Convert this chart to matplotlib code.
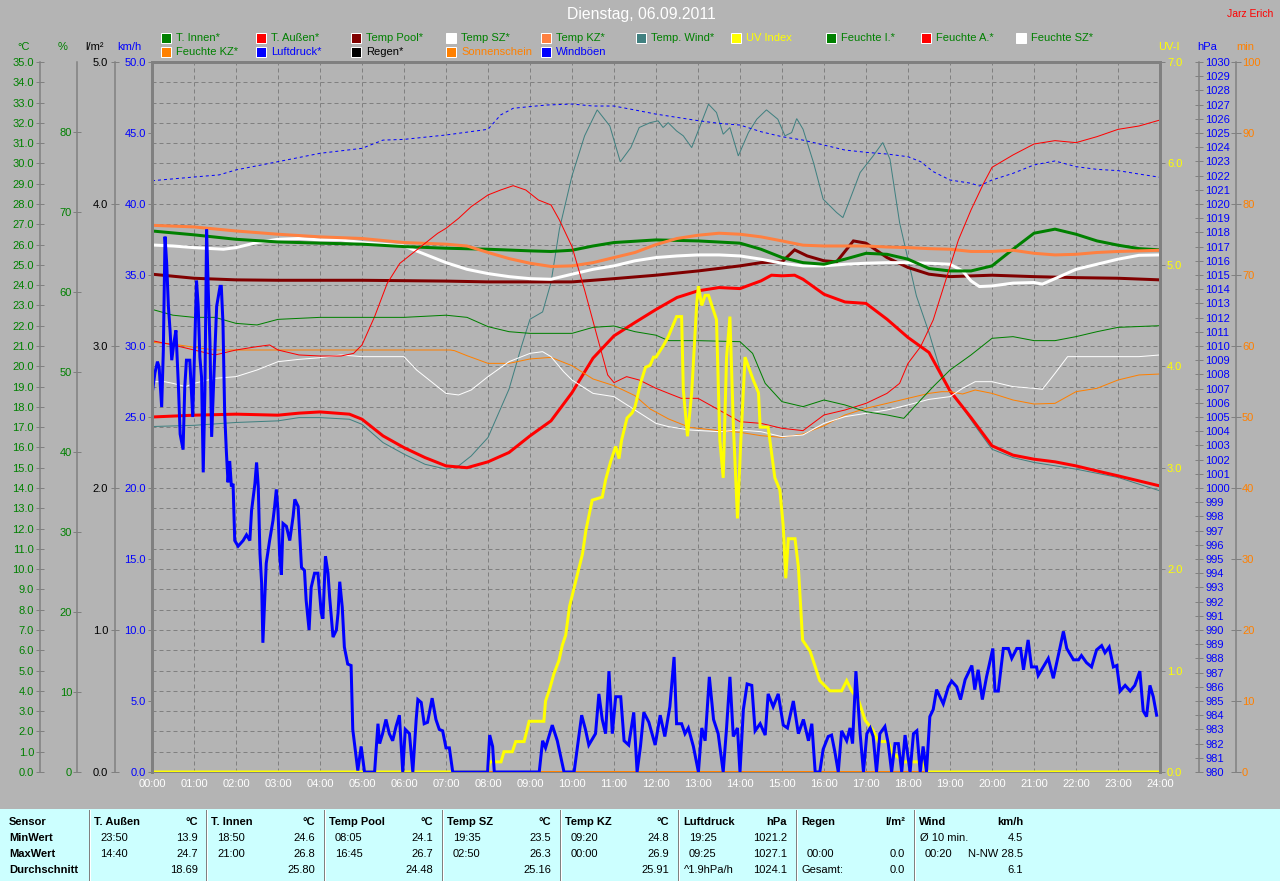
import matplotlib
matplotlib.use("Agg")
import matplotlib.pyplot as plt
from matplotlib.patches import Rectangle
from matplotlib.lines import Line2D
from matplotlib.ticker import FormatStrFormatter

plt.rcParams['font.family'] = ['Liberation Sans', 'DejaVu Sans']

# ---------------------------------------------------------------- data
title = "Dienstag, 06.09.2011"
author = "Jarz Erich"
hour_labels = [f"{h:02d}:00" for h in range(25)]

# (hour, value) pairs
t_innen = [(0, 26.67), (1, 26.48), (2, 26.26), (3, 26.13), (4, 26.07), (5, 26.02), (6, 25.9), (7, 25.82),
           (8, 25.77), (9, 25.69), (9.5, 25.66), (10, 25.72), (10.5, 25.93), (11, 26.1), (12, 26.23), (13, 26.18),
           (14, 26.07), (14.5, 25.77), (15, 25.36), (15.5, 25.11), (16, 25.03), (16.5, 25.28), (17, 25.57),
           (17.5, 25.52), (18, 25.28), (18.5, 24.82), (19, 24.7), (19.5, 24.7), (20, 24.95), (20.5, 25.77),
           (21, 26.56), (21.5, 26.76), (22, 26.51), (22.5, 26.18), (23, 25.97), (23.5, 25.8), (24, 25.74)]

t_aussen = [(0, 17.5), (1, 17.59), (2, 17.64), (3, 17.59), (3.5, 17.69), (4, 17.75), (4.7, 17.64), (5, 17.39),
            (5.5, 16.57), (6, 15.99), (6.5, 15.5), (7, 15.09), (7.5, 15.0), (8, 15.29), (8.5, 15.75), (9, 16.57),
            (9.5, 17.31), (10, 18.7), (10.5, 20.4), (11, 21.5), (11.5, 22.16), (12, 22.8), (12.5, 23.39),
            (13, 23.72), (13.5, 23.88), (14, 23.83), (14.5, 24.21), (14.75, 24.49), (15, 24.46), (15.3, 24.49),
            (15.5, 24.29), (16, 23.55), (16.5, 23.17), (17, 23.1), (17.5, 22.32), (18, 21.42), (18.5, 20.68),
            (19, 18.79), (19.5, 17.47), (20, 16.08), (20.5, 15.62), (21, 15.42), (21.5, 15.29), (22, 15.09),
            (22.5, 14.84), (23, 14.6), (23.5, 14.35), (24, 14.1)]

temp_pool = [(0, 24.54), (1, 24.34), (2, 24.26), (3, 24.24), (5, 24.24), (7, 24.2), (8, 24.16), (9, 24.16),
             (10, 24.16), (11, 24.32), (12, 24.49), (13, 24.7), (14, 24.95), (14.5, 25.11), (15, 25.15),
             (15.3, 25.74), (15.6, 25.44), (16, 25.2), (16.3, 25.15), (16.7, 26.18), (17, 26.07), (17.5, 25.36),
             (18, 24.87), (18.5, 24.54), (19, 24.42), (20, 24.49), (21, 24.42), (22, 24.37), (23, 24.34), (24, 24.26)]

temp_sz = [(0, 25.98), (0.5, 25.93), (1, 25.85), (1.7, 25.77), (2, 25.85), (2.5, 26.1), (3, 26.26), (3.5, 26.3),
           (4, 26.23), (4.5, 26.23), (5, 26.1), (5.5, 26.02), (6, 25.93), (6.5, 25.52), (7, 25.11), (7.5, 24.78),
           (8, 24.57), (8.5, 24.42), (9, 24.32), (9.5, 24.29), (10, 24.54), (10.5, 24.78), (11, 24.95),
           (11.5, 25.2), (12, 25.36), (12.5, 25.44), (13, 25.49), (13.5, 25.49), (14, 25.44), (14.5, 25.28),
           (15, 25.08), (15.5, 24.95), (16, 24.95), (16.5, 25.03), (17, 25.08), (17.5, 25.11), (18, 25.11),
           (18.5, 25.08), (19, 25.03), (19.3, 24.7), (19.5, 24.21), (19.7, 23.93), (20, 23.96), (20.5, 24.1),
           (21, 24.13), (21.2, 24.05), (21.5, 24.32), (22, 24.78), (22.5, 25.03), (23, 25.28), (23.5, 25.47),
           (24, 25.49)]

temp_kz = [(0, 26.95), (1, 26.87), (2, 26.67), (3, 26.51), (4, 26.38), (5, 26.3), (6, 26.1), (7, 26.02),
           (7.5, 25.93), (8, 25.61), (8.5, 25.31), (9, 25.08), (9.5, 24.92), (10, 24.95), (10.5, 25.11),
           (11, 25.36), (11.5, 25.61), (12, 26.0), (12.5, 26.3), (13, 26.46), (13.5, 26.56), (14, 26.51),
           (14.5, 26.38), (15, 26.18), (15.5, 25.97), (16, 25.93), (17, 25.93), (17.5, 25.88), (18, 25.85),
           (18.5, 25.8), (19, 25.77), (19.5, 25.66), (20, 25.66), (20.5, 25.72), (21, 25.57), (21.5, 25.49),
           (22, 25.52), (22.5, 25.61), (23, 25.66), (23.5, 25.69), (24, 25.72)]

temp_wind = [(0, 17.03), (1, 17.09), (2, 17.23), (3, 17.31), (3.5, 17.47), (4, 17.47), (4.7, 17.39), (5, 17.14),
             (5.5, 16.24), (6, 15.67), (6.5, 15.17), (7, 14.93), (7.3, 15.09), (7.6, 15.58), (8, 16.49),
             (8.5, 18.87), (8.8, 21.01), (9, 22.32), (9.3, 22.68), (9.5, 24.13), (9.7, 26.76), (10, 29.39),
             (10.3, 31.36), (10.6, 32.64), (10.9, 31.85), (11.15, 30.08), (11.4, 30.78), (11.6, 31.77),
             (11.86, 32.01), (12.05, 32.1), (12.17, 31.77), (12.29, 32.01), (12.49, 31.6), (12.65, 31.36),
             (12.85, 30.78), (13.05, 31.85), (13.25, 32.92), (13.44, 32.51), (13.6, 31.44), (13.76, 31.77),
             (13.96, 30.37), (14.2, 31.52), (14.4, 32.18), (14.63, 32.64), (14.9, 32.18), (15.07, 31.36),
             (15.23, 31.52), (15.35, 32.21), (15.5, 31.69), (15.75, 30.04), (15.98, 28.24), (16.3, 27.58),
             (16.45, 27.33), (16.62, 28.24), (16.86, 29.55), (17.17, 30.37), (17.4, 31.03), (17.57, 30.21),
             (17.8, 27.08), (18.2, 23.47), (18.5, 21.66), (18.76, 19.86), (19.0, 18.7), (19.3, 17.96),
             (19.6, 17.06), (20.0, 15.91), (20.5, 15.5), (21, 15.26), (22, 14.93), (23, 14.52), (24, 13.86)]

feuchte_i = [(0, 57.83), (0.5, 57.1), (1, 56.83), (1.5, 56.83), (2, 56.08), (2.5, 55.88), (3, 56.58), (4, 56.83),
             (5, 56.83), (6, 56.83), (7, 57.1), (7.5, 56.83), (8, 55.67), (8.5, 55.04), (9, 54.83), (10, 54.83),
             (10.5, 55.58), (11, 55.75), (11.5, 55.04), (12, 54.6), (12.3, 53.92), (13, 53.92), (14, 53.79),
             (14.3, 52.33), (14.6, 48.58), (15, 46.29), (15.5, 45.67), (16, 46.5), (16.5, 45.88), (17, 45.04),
             (17.5, 44.63), (17.9, 44.21), (18.3, 46.5), (18.6, 48.17), (19, 50.25), (19.5, 52.13), (20, 54.21),
             (20.5, 54.42), (21, 53.92), (21.5, 53.92), (22, 54.42), (22.5, 55.04), (23, 55.58), (24, 55.79)]

feuchte_a = [(0, 53.92), (0.5, 53.38), (1, 52.75), (1.5, 52.13), (2, 52.75), (2.5, 53.17), (2.8, 53.38),
             (3, 52.75), (3.5, 52.13), (4, 52.0), (4.5, 52.0), (4.8, 52.33), (5, 53.38), (5.3, 56.92),
             (5.6, 61.08), (5.9, 63.58), (6.2, 64.83), (6.5, 66.08), (6.8, 67.33), (7.0, 67.96), (7.3, 69.21),
             (7.6, 70.67), (8.0, 72.13), (8.3, 72.75), (8.6, 73.29), (8.9, 72.75), (9.2, 71.5), (9.5, 70.88),
             (9.7, 69.0), (10, 65.67), (10.3, 60.25), (10.6, 54.42), (10.85, 49.63), (11, 48.67), (11.3, 49.42),
             (11.6, 49.0), (12, 47.96), (12.3, 47.33), (12.6, 46.71), (13, 46.71), (13.5, 45.25), (14, 43.79),
             (14.5, 43.58), (15, 42.96), (15.5, 42.67), (16, 44.63), (16.5, 45.25), (17, 46.08), (17.5, 47.33),
             (17.8, 48.58), (18, 51.08), (18.3, 53.17), (18.6, 56.5), (18.9, 61.5), (19.2, 66.5), (19.5, 70.25),
             (19.8, 73.58), (20, 75.58), (20.5, 77.13), (21, 78.5), (21.5, 78.92), (22, 78.67), (22.5, 79.42),
             (23, 80.33), (23.5, 80.75), (24, 81.5)]

feuchte_sz = [(0, 48.79), (0.3, 48.79), (0.5, 48.58), (0.8, 48.17), (1, 48.58), (1.5, 49.21), (2, 49.42),
              (2.5, 50.25), (3, 51.29), (3.5, 51.58), (4, 51.79), (4.5, 52.13), (5, 51.92), (5.5, 51.92),
              (6, 51.92), (6.3, 50.25), (6.7, 48.58), (7, 47.33), (7.3, 47.13), (7.6, 47.75), (8, 49.42),
              (8.5, 51.29), (9, 52.33), (9.3, 52.54), (9.5, 51.92), (9.8, 50.04), (10, 49.0), (10.5, 47.33),
              (11, 46.92), (11.5, 45.25), (12, 43.58), (12.3, 43.17), (12.8, 42.75), (13.5, 42.54), (14, 42.75),
              (14.5, 42.54), (15, 41.92), (15.5, 42.13), (16, 43.58), (16.5, 44.42), (17, 44.83), (17.5, 45.25),
              (18, 45.88), (18.5, 46.58), (19, 46.92), (19.3, 47.96), (19.6, 48.79), (20, 48.79), (20.5, 48.17),
              (21, 47.96), (21.2, 47.83), (21.5, 49.83), (21.8, 51.92), (22, 51.92), (23, 51.92), (23.5, 51.92),
              (24, 52.13)]

feuchte_kz = [(0, 53.71), (0.5, 53.5), (1, 53.08), (1.5, 52.75), (2, 52.75), (3, 52.75), (4, 52.75), (5, 52.75),
              (6, 52.75), (7.1, 52.75), (7.2, 52.67), (7.5, 52.04), (8, 51.08), (8.5, 51.08), (9, 51.63),
              (9.5, 51.83), (10, 50.79), (10.5, 49.13), (11, 48.29), (11.5, 47.04), (11.86, 45.38), (12.3, 44.13),
              (12.8, 43.08), (13.5, 42.67), (14, 42.46), (14.5, 42.04), (15, 41.83), (15.5, 42.25), (16, 43.29),
              (16.5, 44.63), (17, 45.46), (17.5, 46.08), (18, 46.71), (18.5, 47.33), (18.8, 47.54), (19, 47.54),
              (19.3, 47.25), (19.6, 47.75), (20, 47.33), (20.5, 46.5), (21, 46.0), (21.5, 46.08), (22, 47.54),
              (22.5, 47.96), (23, 49.0), (23.5, 49.63), (24, 49.75)]

luftdruck = [(0, 1021.64), (1, 1021.9), (1.6, 1022.05), (2, 1022.4), (3, 1022.98), (4, 1023.57), (5, 1023.92),
             (5.5, 1024.5), (6, 1024.55), (7, 1024.86), (8, 1025.26), (8.3, 1026.27), (8.6, 1026.74),
             (9, 1026.86), (9.4, 1026.97), (10, 1027.04), (10.5, 1026.9), (11, 1026.9), (11.5, 1026.62),
             (12, 1026.33), (12.5, 1026.1), (13, 1025.87), (13.5, 1025.68), (14, 1025.56), (14.5, 1025.09),
             (15, 1024.74), (15.5, 1024.5), (16, 1024.15), (16.5, 1023.8), (17, 1023.64), (17.5, 1023.52),
             (18, 1023.33), (18.3, 1022.98), (18.6, 1022.28), (19, 1021.69), (19.5, 1021.46), (19.7, 1021.27),
             (20, 1021.69), (20.5, 1022.16), (21, 1022.75), (21.5, 1023.03), (22, 1022.63), (22.5, 1022.44),
             (23, 1022.35), (23.5, 1022.11), (24, 1021.88)]

uv_index = [(0, 0.0), (7.99, 0.0), (8.04, 0.1), (8.31, 0.1), (8.38, 0.2), (8.58, 0.2), (8.66, 0.3), (8.86, 0.3),
            (8.98, 0.5), (9.33, 0.5), (9.37, 0.7), (9.47, 0.82), (9.57, 0.97), (9.69, 1.1), (9.77, 1.25),
            (9.85, 1.35), (9.94, 1.63), (10.1, 1.9), (10.25, 2.15), (10.33, 2.38), (10.48, 2.68), (10.72, 2.71),
            (10.8, 2.88), (10.92, 3.06), (11.04, 3.21), (11.12, 3.09), (11.18, 3.27), (11.31, 3.49),
            (11.43, 3.54), (11.5, 3.6), (11.63, 3.83), (11.75, 3.99), (11.86, 4.01), (11.94, 4.09), (12.0, 4.09),
            (12.17, 4.2), (12.29, 4.29), (12.49, 4.49), (12.61, 4.49), (12.65, 3.77), (12.75, 3.31),
            (12.85, 3.74), (12.97, 4.62), (13.01, 4.79), (13.09, 4.6), (13.17, 4.7), (13.25, 4.7), (13.44, 4.46),
            (13.52, 3.27), (13.6, 2.9), (13.68, 4.09), (13.76, 4.49), (13.84, 3.44), (13.94, 2.5), (14.02, 3.27),
            (14.12, 4.09), (14.32, 3.86), (14.44, 3.74), (14.48, 3.4), (14.67, 3.4), (14.83, 2.9), (14.95, 2.78),
            (15.03, 2.42), (15.09, 1.91), (15.15, 2.3), (15.31, 2.3), (15.39, 2.02), (15.49, 1.3), (15.67, 1.19),
            (15.9, 0.9), (16.14, 0.8), (16.42, 0.8), (16.54, 0.9), (16.66, 0.8), (16.82, 0.71), (16.98, 0.51),
            (17.17, 0.41), (17.29, 0.3), (17.53, 0.3), (17.61, 0.2), (17.89, 0.1), (18.36, 0.1), (18.44, 0.0),
            (24, 0.0)]

windboeen = [(0.0, 26.55), (0.07, 28.1), (0.13, 28.9), (0.17, 28.5), (0.23, 25.7), (0.27, 29.7), (0.31, 37.7),
             (0.35, 35.8), (0.39, 32.8), (0.43, 31.1), (0.47, 29.0), (0.52, 30.2), (0.57, 31.1), (0.63, 27.1),
             (0.67, 23.8), (0.74, 22.7), (0.78, 27.1), (0.82, 29.0), (0.9, 29.0), (0.97, 25.0), (1.02, 30.4),
             (1.06, 34.6), (1.1, 32.8), (1.14, 29.2), (1.18, 27.8), (1.22, 21.1), (1.26, 26.9), (1.3, 38.2),
             (1.34, 33.9), (1.38, 30.2), (1.42, 23.6), (1.47, 27.6), (1.54, 32.8), (1.62, 34.2), (1.65, 34.2),
             (1.69, 31.6), (1.73, 25.3), (1.77, 22.6), (1.81, 20.4), (1.85, 21.9), (1.89, 20.1), (1.93, 20.3),
             (1.97, 16.3), (2.05, 15.9), (2.17, 16.3), (2.25, 16.7), (2.33, 16.3), (2.37, 18.4), (2.45, 20.3),
             (2.49, 21.8), (2.53, 20.1), (2.57, 15.4), (2.61, 13.3), (2.64, 9.1), (2.68, 11.9), (2.72, 14.7),
             (2.8, 16.3), (2.88, 17.7), (2.92, 18.7), (2.96, 19.9), (3.0, 18.4), (3.04, 15.2), (3.08, 13.9),
             (3.12, 17.5), (3.2, 17.3), (3.28, 16.3), (3.36, 18.0), (3.4, 19.2), (3.48, 18.7), (3.56, 14.4),
             (3.63, 14.2), (3.67, 12.1), (3.74, 10.0), (3.79, 13.0), (3.87, 14.0), (3.95, 14.0), (4.03, 11.2),
             (4.07, 10.8), (4.13, 15.2), (4.19, 14.0), (4.23, 12.3), (4.31, 9.5), (4.39, 10.0), (4.43, 11.2),
             (4.47, 13.4), (4.53, 11.6), (4.58, 8.8), (4.66, 7.6), (4.74, 7.5), (4.78, 3.0), (4.86, 1.1),
             (4.9, 0.1), (4.98, 1.8), (5.06, 0.0), (5.3, 0.0), (5.38, 3.4), (5.42, 2.0), (5.49, 2.7), (5.57, 3.7),
             (5.65, 2.7), (5.73, 2.2), (5.81, 3.2), (5.89, 4.0), (5.93, 2.0), (5.97, 0.0), (6.03, 3.0),
             (6.13, 2.7), (6.21, 0.0), (6.29, 3.7), (6.33, 5.1), (6.41, 4.9), (6.48, 3.4), (6.56, 3.5),
             (6.67, 5.2), (6.76, 3.7), (6.84, 3.0), (6.92, 2.9), (7.0, 1.7), (7.08, 1.7), (7.16, 0.0),
             (7.99, 0.0), (8.04, 2.6), (8.11, 1.8), (8.15, 0.0), (9.22, 0.0), (9.3, 2.2), (9.37, 1.7),
             (9.53, 3.3), (9.65, 2.2), (9.81, 0.0), (10.05, 0.0), (10.17, 2.7), (10.23, 4.0), (10.32, 3.0),
             (10.4, 1.9), (10.56, 2.7), (10.64, 5.5), (10.72, 3.7), (10.8, 2.7), (10.88, 7.1), (10.96, 2.7),
             (11.04, 5.3), (11.16, 5.3), (11.24, 2.2), (11.35, 1.9), (11.47, 4.2), (11.55, 0.0), (11.63, 1.8),
             (11.71, 4.2), (11.83, 3.5), (11.98, 1.9), (12.1, 4.0), (12.21, 2.5), (12.33, 4.6), (12.43, 8.1),
             (12.49, 3.4), (12.61, 3.4), (12.69, 2.7), (12.77, 3.1), (12.89, 1.8), (13.01, 0.0), (13.09, 3.1),
             (13.17, 2.2), (13.27, 6.7), (13.37, 3.7), (13.48, 2.7), (13.6, 0.0), (13.68, 3.1), (13.76, 6.7),
             (13.84, 2.5), (13.94, 3.1), (14.0, 0.0), (14.08, 4.4), (14.17, 6.2), (14.28, 6.1), (14.36, 2.9),
             (14.48, 3.4), (14.6, 2.6), (14.67, 5.5), (14.79, 4.6), (14.91, 5.5), (15.03, 3.3), (15.13, 3.1),
             (15.27, 5.0), (15.39, 2.7), (15.51, 3.7), (15.63, 2.2), (15.71, 3.4), (15.79, 0.0), (15.9, 0.0),
             (15.98, 1.6), (16.1, 2.5), (16.18, 2.6), (16.26, 1.4), (16.34, 0.0), (16.42, 2.9), (16.54, 2.2),
             (16.62, 3.1), (16.68, 2.0), (16.76, 7.1), (16.86, 2.7), (16.94, 0.0), (17.02, 2.7), (17.1, 3.1),
             (17.17, 2.5), (17.25, 0.0), (17.33, 2.7), (17.45, 3.2), (17.53, 2.0), (17.61, 0.0), (17.69, 2.0),
             (17.77, 2.0), (17.85, 0.0), (17.93, 2.6), (18.05, 0.0), (18.13, 2.7), (18.21, 2.9), (18.29, 0.0),
             (18.36, 1.8), (18.44, 0.0), (18.52, 3.9), (18.6, 4.4), (18.68, 5.8), (18.84, 4.8), (18.96, 6.0),
             (19.04, 6.4), (19.16, 6.0), (19.25, 5.1), (19.36, 6.5), (19.52, 7.5), (19.59, 5.8), (19.67, 7.2),
             (19.77, 5.1), (19.87, 6.7), (20.02, 8.7), (20.07, 5.7), (20.15, 5.7), (20.27, 8.7), (20.39, 8.7),
             (20.47, 8.0), (20.59, 8.7), (20.68, 8.7), (20.75, 7.2), (20.86, 9.3), (20.94, 7.4), (21.06, 7.4),
             (21.1, 6.8), (21.34, 8.0), (21.46, 6.6), (21.6, 8.5), (21.7, 9.9), (21.78, 8.7), (21.94, 7.9),
             (22.06, 7.9), (22.13, 8.2), (22.25, 7.7), (22.37, 7.4), (22.49, 8.6), (22.61, 8.9), (22.69, 8.4),
             (22.79, 8.8), (22.89, 7.4), (22.97, 7.5), (23.05, 5.7), (23.17, 6.1), (23.29, 5.7), (23.4, 6.1),
             (23.52, 7.1), (23.6, 4.3), (23.68, 3.9), (23.76, 6.1), (23.84, 5.3), (23.92, 4.0)]

regen = [(0, 0.0), (24, 0.0)]
sonnenschein = [(0, 0.0), (24, 0.0)]

# legend rows
legend_row1 = ["T. Innen*", "T. Außen*", "Temp Pool*", "Temp SZ*", "Temp KZ*", "Temp. Wind*", "UV Index",
               "Feuchte I.*", "Feuchte A.*", "Feuchte SZ*"]
legend_row2 = ["Feuchte KZ*", "Luftdruck*", "Regen*", "Sonnenschein", "Windböen"]

# statistics table
tbl_row_names = ["Sensor", "MinWert", "MaxWert", "Durchschnitt"]
tbl_sensors = ["T. Außen", "T. Innen", "Temp Pool", "Temp SZ", "Temp KZ", "Luftdruck", "Regen", "Wind"]
tbl_units = ["°C", "°C", "°C", "°C", "°C", "hPa", "l/m²", "km/h"]
tbl_min_left = ["23:50", "18:50", "08:05", "19:35", "09:20", "19:25", "", "Ø 10 min."]
tbl_min_right = ["13.9", "24.6", "24.1", "23.5", "24.8", "1021.2", "", "4.5"]
tbl_max_left = ["14:40", "21:00", "16:45", "02:50", "00:00", "09:25", "00:00", "00:20"]
tbl_max_right = ["24.7", "26.8", "26.7", "26.3", "26.9", "1027.1", "0.0", "N-NW 28.5"]
tbl_avg_left = ["", "", "", "", "", "^1.9hPa/h", "Gesamt:", ""]
tbl_avg_right = ["18.69", "25.80", "24.48", "25.16", "25.91", "1024.1", "0.0", "6.1"]

# ---------------------------------------------------------------- style
FIG_W, FIG_H, DPI = 1280, 881, 100
PX = 0.72  # points per pixel
BG = "#b4b4b4"
CYAN = "#ccffff"
GRAY = "#808080"
GREEN = "#008000"
RED = "#ff0000"
DARKRED = "#800000"
WHITE = "#ffffff"
LORANGE = "#ff8040"
ORANGE = "#ff8000"
TEAL = "#408080"
YELLOW = "#ffff00"
BLUE = "#0000ff"
BLACK = "#000000"
PL, PR, PT, PB = 152, 1160, 62, 772


def fx(px):
    return px / FIG_W


def fy(py):
    return 1 - py / FIG_H


def apos(xpix):
    return (xpix - PL) / (PR - PL)


fig = plt.figure(figsize=(FIG_W / DPI, FIG_H / DPI), dpi=DPI, facecolor=BG)
ax = fig.add_axes([fx(PL), fy(PB), (PR - PL) / FIG_W, (PB - PT) / FIG_H])
ax.set_facecolor(BG)
ax.set_xlim(0, 24)


def style_y(a, side, xpix, lo, hi, ticks, fmt, color, direction, length_px, pad_px, spine_lw_px=1.5):
    a.set_ylim(lo, hi)
    for s in a.spines.values():
        s.set_visible(False)
    sp = a.spines[side]
    sp.set_visible(True)
    sp.set_position(('axes', apos(xpix)))
    sp.set_color(GRAY)
    sp.set_linewidth(spine_lw_px * PX)
    if side == 'left':
        a.yaxis.tick_left()
    else:
        a.yaxis.tick_right()
    a.set_yticks(ticks)
    a.yaxis.set_major_formatter(FormatStrFormatter(fmt))
    a.tick_params(axis='y', which='major', direction=direction, length=length_px * PX, width=PX,
                  color=GRAY, labelcolor=color, labelsize=8, pad=pad_px * PX)


# °C axis = main axes
style_y(ax, 'left', 40, 0, 35, list(range(0, 36)), "%.1f", GREEN, 'inout', 8, 2)
ax.spines['top'].set_visible(True)
ax.spines['top'].set_color(GRAY)
ax.spines['top'].set_linewidth(3 * PX)
ax.spines['bottom'].set_visible(True)
ax.spines['bottom'].set_color(GRAY)
ax.spines['bottom'].set_linewidth(1 * PX)
ax.set_xticks(list(range(25)))
ax.set_xticklabels(hour_labels)
ax.tick_params(axis='x', length=0, labelcolor=WHITE, labelsize=8, pad=7 * PX)
ax.grid(True, color=GRAY, linestyle=(0, (4, 3)), linewidth=PX)
ax.set_axisbelow(True)

ax_pct = ax.twinx()
style_y(ax_pct, 'left', 77, 0, 88.75, list(range(0, 81, 10)), "%d", GREEN, 'inout', 8, 1)
ax_rain = ax.twinx()
style_y(ax_rain, 'left', 115, 0, 5, [0, 1, 2, 3, 4, 5], "%.1f", BLACK, 'inout', 8, 3)
ax_min = ax.twinx()
style_y(ax_min, 'right', 1236, 0, 100, list(range(0, 101, 10)), "%d", ORANGE, 'inout', 10, 1)
ax_hpa = ax.twinx()
style_y(ax_hpa, 'right', 1199, 980, 1030, list(range(980, 1031)), "%d", BLUE, 'inout', 8, 2)
ax_uv = ax.twinx()
style_y(ax_uv, 'right', PR, 0, 7, list(range(0, 8)), "%.1f", YELLOW, 'out', 5, 2, spine_lw_px=3)
ax_kmh = ax.twinx()
style_y(ax_kmh, 'left', PL, 0, 50, list(range(0, 51, 5)), "%.1f", BLUE, 'out', 4, 2, spine_lw_px=3)

THICK = 3 * PX
THIN = 1 * PX


def plot(a, series, color, lw, **kw):
    xs = [p[0] for p in series]
    ys = [p[1] for p in series]
    a.plot(xs, ys, color=color, lw=lw, solid_joinstyle='miter', clip_on=True, **kw)


# °C series
plot(ax, temp_wind, TEAL, THIN)
plot(ax, t_aussen, RED, THICK)
plot(ax, temp_pool, DARKRED, THICK)
plot(ax, temp_sz, WHITE, THICK)
plot(ax, t_innen, GREEN, THICK)
plot(ax, temp_kz, LORANGE, THICK)
# humidity
plot(ax_pct, feuchte_kz, ORANGE, THIN)
plot(ax_pct, feuchte_sz, WHITE, THIN)
plot(ax_pct, feuchte_a, RED, THIN)
plot(ax_pct, feuchte_i, GREEN, THIN)
# rain / sunshine
plot(ax_min, sonnenschein, ORANGE, THICK)
plot(ax_rain, regen, BLACK, THICK)
# pressure
plot(ax_hpa, luftdruck, BLUE, THIN, linestyle=(0, (3, 3)))
# uv
plot(ax_uv, uv_index, YELLOW, THICK)
# wind gusts
plot(ax_kmh, windboeen, BLUE, THICK)

# ---------------------------------------------------------------- texts
fig.text(fx(641), fy(15), title, color=WHITE, fontsize=11.3, ha='center', va='center')
fig.text(fx(1250), fy(14), author, color=RED, fontsize=7.5, ha='center', va='center')

unit_labels = [("°C", 24, GREEN), ("%", 63, GREEN), ("l/m²", 95, BLACK), ("km/h", 129, BLUE),
               ("UV-I", 1169, YELLOW), ("hPa", 1207, BLUE), ("min", 1245, ORANGE)]
for txt, xp, col in unit_labels:
    fig.text(fx(xp), fy(47), txt, color=col, fontsize=8, ha='center', va='center')

# legend
row1_colors = [GREEN, RED, DARKRED, WHITE, LORANGE, TEAL, YELLOW, GREEN, RED, WHITE]
row1_text = [GREEN, GREEN, GREEN, GREEN, GREEN, GREEN, YELLOW, GREEN, GREEN, GREEN]
row2_colors = [ORANGE, BLUE, BLACK, ORANGE, BLUE]
row2_text = [GREEN, BLUE, BLACK, ORANGE, BLUE]
for row, (labels, cols, tcols, yc) in enumerate([(legend_row1, row1_colors, row1_text, 38),
                                                 (legend_row2, row2_colors, row2_text, 52)]):
    for i, (lab, c, tc) in enumerate(zip(labels, cols, tcols)):
        x0 = 161 + 95 * i
        fig.patches.append(Rectangle((fx(x0), fy(yc + 5)), 10 / FIG_W, 10 / FIG_H, transform=fig.transFigure,
                                     facecolor=c, edgecolor=WHITE, linewidth=1 * PX))
        fig.text(fx(x0 + 15), fy(yc), lab, color=tc, fontsize=8, ha='left', va='center')

# table
fig.patches.append(Rectangle((0, 0), 1, fy(809), transform=fig.transFigure, facecolor=CYAN, edgecolor='none'))
seps = [89, 206, 324, 442, 560, 678, 796, 914]
row_y = [822, 838, 854, 870]
for i, name in enumerate(tbl_row_names):
    fig.text(fx(9), fy(row_y[i]), name, fontsize=8, fontweight='bold', ha='left', va='center', color=BLACK)
for j, sx in enumerate(seps):
    fig.add_artist(Line2D([fx(sx), fx(sx)], [fy(881), fy(810)], transform=fig.transFigure, color=GRAY, lw=1 * PX))
    fig.add_artist(Line2D([fx(sx + 1), fx(sx + 1)], [fy(881), fy(810)], transform=fig.transFigure,
                          color=WHITE, lw=1 * PX))
    fig.text(fx(sx + 5), fy(row_y[0]), tbl_sensors[j], fontsize=8, fontweight='bold', ha='left', va='center')
    fig.text(fx(sx + 109), fy(row_y[0]), tbl_units[j], fontsize=8, fontweight='bold', ha='right', va='center')
    lefts = [tbl_min_left[j], tbl_max_left[j], tbl_avg_left[j]]
    rights = [tbl_min_right[j], tbl_max_right[j], tbl_avg_right[j]]
    for k in range(3):
        lt = lefts[k]
        off = 11 if (len(lt) == 5 and lt[2] == ":") else 6
        fig.text(fx(sx + off), fy(row_y[k + 1]), lt, fontsize=8, ha='left', va='center')
        fig.text(fx(sx + 109), fy(row_y[k + 1]), rights[k], fontsize=8, ha='right', va='center')

fig.savefig("out.png", dpi=DPI, facecolor=BG)
